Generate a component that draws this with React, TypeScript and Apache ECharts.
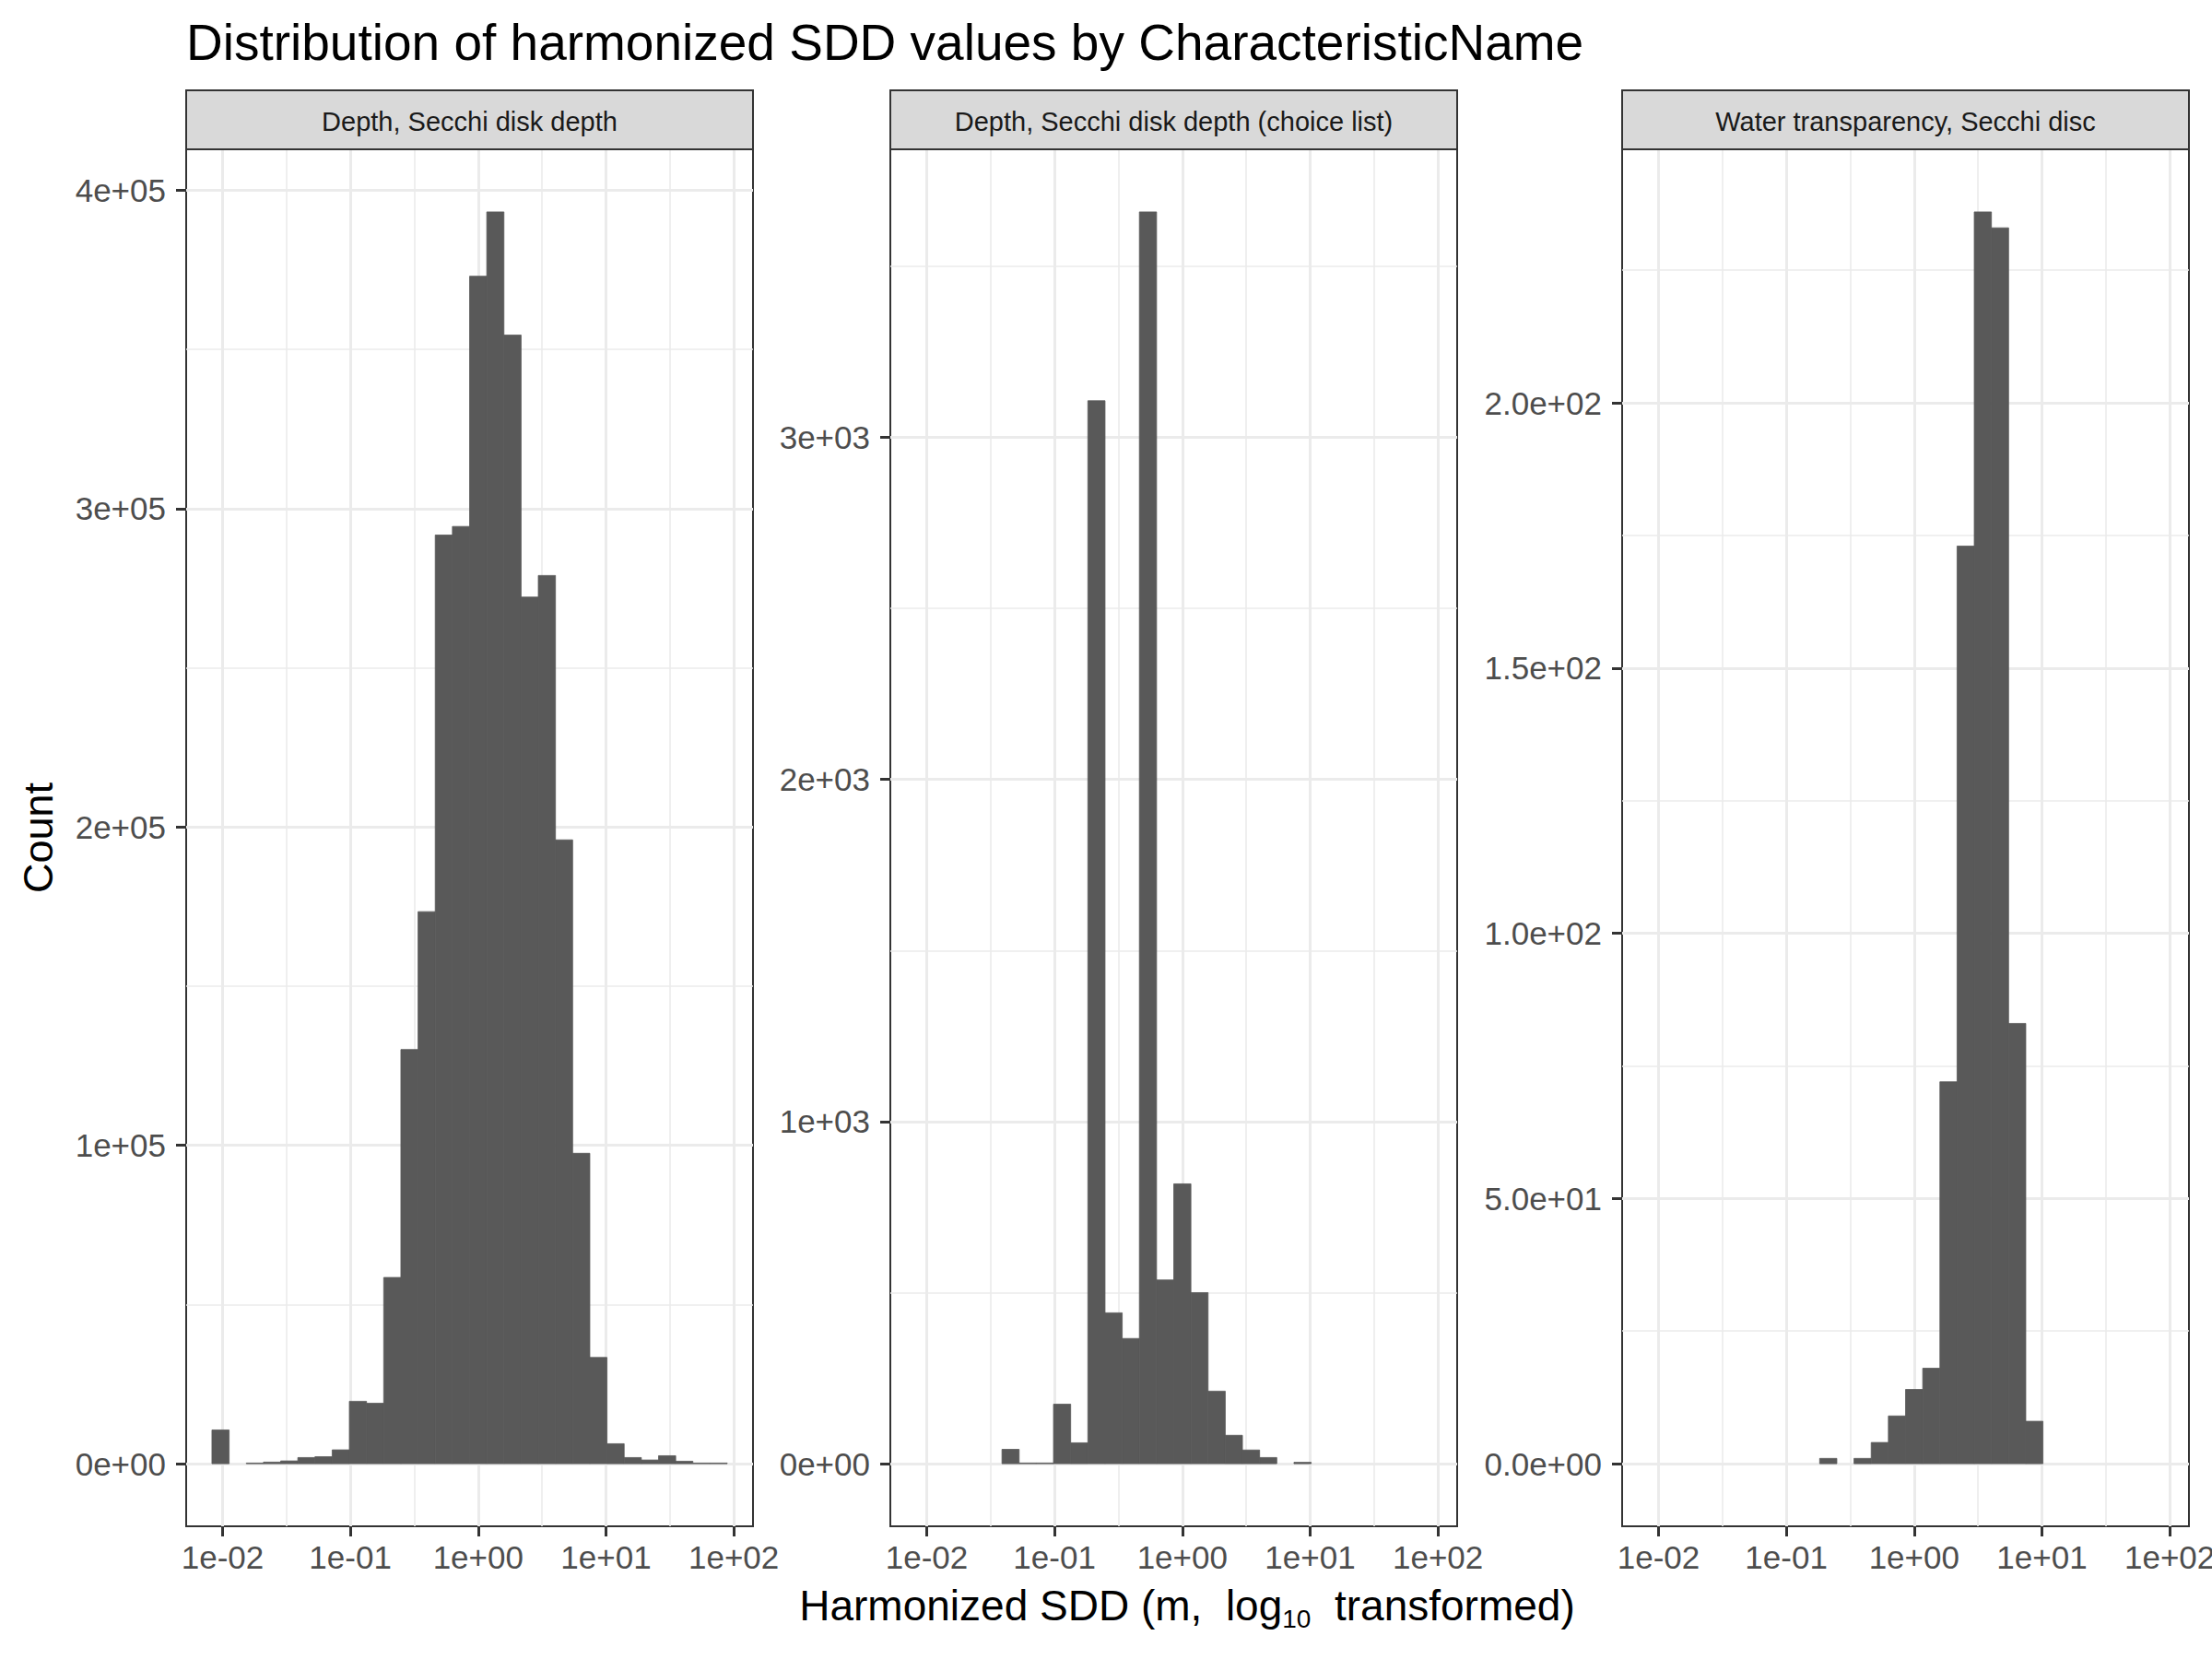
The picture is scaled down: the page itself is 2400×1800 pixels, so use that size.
import React, { useEffect, useRef } from "react";
import * as echarts from "echarts";

// ---------- data ----------
const PANEL_NAMES = [
  "Depth, Secchi disk depth",
  "Depth, Secchi disk depth (choice list)",
  "Water transparency, Secchi disc",
];

// histogram bins in log10(m): 30 bins of equal width, shared by all panels
const BIN_START = -2.083;
const BIN_WIDTH = 0.1344;

const COUNTS_DEPTH = [
  10600, 0, 200, 500, 870, 1930, 2200, 4350, 19600, 19000,
  58500, 130100, 173400, 291700, 294400, 373000, 393200, 354500, 272200, 279000,
  195950, 97500, 33370, 6270, 1930, 1160, 2500, 770, 200, 200,
];
const COUNTS_CHOICE = [
  0, 0, 0, 0, 0, 42, 2, 2, 174, 61,
  3107, 441, 366, 3659, 537, 818, 500, 212, 83, 40,
  18, 0, 4, 0, 0, 0, 0, 0, 0, 0,
];
const COUNTS_WATER = [
  0, 0, 0, 0, 0, 0, 0, 0, 0, 0,
  1, 0, 1, 4, 9, 14, 18, 72, 173, 236,
  233, 83, 8, 0, 0, 0, 0, 0, 0, 0,
];

const X_TICKS = [-2, -1, 0, 1, 2];
const X_TICK_LABELS = ["1e-02", "1e-01", "1e+00", "1e+01", "1e+02"];
const X_MINOR = [-1.5, -0.5, 0.5, 1.5];

const Y_TICKS_DEPTH = [0, 100000, 200000, 300000, 400000];
const Y_LABELS_DEPTH = ["0e+00", "1e+05", "2e+05", "3e+05", "4e+05"];
const Y_MINOR_DEPTH = [50000, 150000, 250000, 350000];

const Y_TICKS_CHOICE = [0, 1000, 2000, 3000];
const Y_LABELS_CHOICE = ["0e+00", "1e+03", "2e+03", "3e+03"];
const Y_MINOR_CHOICE = [500, 1500, 2500, 3500];

const Y_TICKS_WATER = [0, 50, 100, 150, 200];
const Y_LABELS_WATER = ["0.0e+00", "5.0e+01", "1.0e+02", "1.5e+02", "2.0e+02"];
const Y_MINOR_WATER = [25, 75, 125, 175, 225];

const TITLE = "Distribution of harmonized SDD values by CharacteristicName";
const Y_TITLE = "Count";

// ---------- layout / style ----------
const FONT = "'Liberation Sans', Arial, Helvetica, sans-serif";
const PANEL_LEFT = [202, 966, 1760];
const PANEL_WIDTH = 615;
const PANEL_TOP = 162;
const PANEL_HEIGHT = 1494;
const STRIP_TOP = 98;
const STRIP_HEIGHT = 64;
const BAR_COLOR = "#595959";
const GRID_COLOR = "#EBEBEB";
const DARK = "#333333";
const AXIS_TEXT = "#4D4D4D";

const PANELS = [
  { counts: COUNTS_DEPTH, ticks: Y_TICKS_DEPTH, labels: Y_LABELS_DEPTH, minor: Y_MINOR_DEPTH },
  { counts: COUNTS_CHOICE, ticks: Y_TICKS_CHOICE, labels: Y_LABELS_CHOICE, minor: Y_MINOR_CHOICE },
  { counts: COUNTS_WATER, ticks: Y_TICKS_WATER, labels: Y_LABELS_WATER, minor: Y_MINOR_WATER },
];

function buildOption() {
  const binEnd = BIN_START + COUNTS_DEPTH.length * BIN_WIDTH;
  const xPad = (binEnd - BIN_START) * 0.05;
  const xMin = BIN_START - xPad;
  const xMax = binEnd + xPad;

  const grids: any[] = [];
  const xAxes: any[] = [];
  const yAxes: any[] = [];
  const series: any[] = [];
  const graphics: any[] = [];

  PANELS.forEach((p, i) => {
    const yMaxData = Math.max(...p.counts);
    const yMin = -0.05 * yMaxData;
    const yMax = 1.05 * yMaxData;

    grids.push({
      left: PANEL_LEFT[i],
      top: PANEL_TOP,
      width: PANEL_WIDTH,
      height: PANEL_HEIGHT,
      show: true,
      backgroundColor: "#FFFFFF",
      borderColor: DARK,
      borderWidth: 2,
      containLabel: false,
      outerBoundsMode: "none",
    });

    xAxes.push({
      gridIndex: i,
      type: "value",
      min: xMin,
      max: xMax,
      position: "bottom",
      axisLine: { show: false, onZero: false },
      axisTick: {
        show: true,
        length: 11,
        customValues: X_TICKS,
        lineStyle: { color: DARK, width: 3 },
      },
      axisLabel: {
        customValues: X_TICKS,
        formatter: (v: number) => {
          const k = X_TICKS.findIndex((t) => Math.abs(t - v) < 1e-9);
          return k >= 0 ? X_TICK_LABELS[k] : "";
        },
        color: AXIS_TEXT,
        fontSize: 35,
        fontFamily: FONT,
        margin: 16,
      },
      splitLine: { show: true, lineStyle: { color: GRID_COLOR, width: 3 } },
    });
    xAxes.push({
      gridIndex: i,
      type: "value",
      min: xMin,
      max: xMax,
      position: "top",
      axisLine: { show: false, onZero: false },
      axisTick: { show: false, customValues: X_MINOR },
      axisLabel: { show: false, customValues: X_MINOR },
      splitLine: { show: true, lineStyle: { color: GRID_COLOR, width: 1.6 } },
    });

    yAxes.push({
      gridIndex: i,
      type: "value",
      min: yMin,
      max: yMax,
      position: "left",
      axisLine: { show: false, onZero: false },
      axisTick: {
        show: true,
        length: 11,
        customValues: p.ticks,
        lineStyle: { color: DARK, width: 3 },
      },
      axisLabel: {
        customValues: p.ticks,
        formatter: (v: number) => {
          const k = p.ticks.findIndex((t) => Math.abs(t - v) < 1e-6);
          return k >= 0 ? p.labels[k] : "";
        },
        color: AXIS_TEXT,
        fontSize: 35,
        fontFamily: FONT,
        margin: 22,
      },
      splitLine: { show: true, lineStyle: { color: GRID_COLOR, width: 3 } },
    });
    yAxes.push({
      gridIndex: i,
      type: "value",
      min: yMin,
      max: yMax,
      position: "right",
      axisLine: { show: false, onZero: false },
      axisTick: { show: false, customValues: p.minor },
      axisLabel: { show: false, customValues: p.minor },
      splitLine: { show: true, lineStyle: { color: GRID_COLOR, width: 1.6 } },
    });

    const data = p.counts
      .map((c, k) => [BIN_START + k * BIN_WIDTH, BIN_START + (k + 1) * BIN_WIDTH, c])
      .filter((d) => d[2] > 0);

    series.push({
      type: "custom",
      xAxisIndex: 2 * i,
      yAxisIndex: 2 * i,
      z: 5,
      silent: true,
      clip: true,
      encode: { x: [0, 1], y: 2 },
      data,
      renderItem: (_params: any, api: any) => {
        const p0 = api.coord([api.value(0), 0]);
        const p1 = api.coord([api.value(1), api.value(2)]);
        return {
          type: "rect",
          shape: { x: p0[0], y: p1[1], width: p1[0] - p0[0], height: p0[1] - p1[1] },
          style: { fill: BAR_COLOR, stroke: BAR_COLOR, lineWidth: 0.8 },
        };
      },
    });

    // facet strip
    graphics.push({
      type: "rect",
      z: 10,
      shape: { x: PANEL_LEFT[i], y: STRIP_TOP, width: PANEL_WIDTH, height: STRIP_HEIGHT },
      style: { fill: "#D9D9D9", stroke: DARK, lineWidth: 2 },
    });
    graphics.push({
      type: "text",
      z: 11,
      x: PANEL_LEFT[i] + PANEL_WIDTH / 2,
      y: STRIP_TOP + STRIP_HEIGHT / 2 + 1.5,
      style: {
        text: PANEL_NAMES[i],
        fill: "#1A1A1A",
        font: `29px ${FONT}`,
        textAlign: "center",
        textVerticalAlign: "middle",
      },
    });
  });

  // title
  graphics.push({
    type: "text",
    z: 11,
    x: 202,
    y: 46,
    style: {
      text: TITLE,
      fill: "#000000",
      font: `55px ${FONT}`,
      textAlign: "left",
      textVerticalAlign: "middle",
    },
  });
  // y axis title
  graphics.push({
    type: "text",
    z: 11,
    x: 41,
    y: PANEL_TOP + PANEL_HEIGHT / 2,
    rotation: Math.PI / 2,
    style: {
      text: Y_TITLE,
      fill: "#000000",
      font: `45px ${FONT}`,
      textAlign: "center",
      textVerticalAlign: "middle",
    },
  });
  // x axis title with subscript
  graphics.push({
    type: "text",
    z: 11,
    x: 1288,
    y: 1742,
    style: {
      text: "{a|Harmonized SDD (m,  log}{b|10}{a|  transformed)}",
      fill: "#000000",
      textAlign: "center",
      textVerticalAlign: "middle",
      rich: {
        a: { fontSize: 46, fontFamily: FONT, lineHeight: 56, verticalAlign: "middle", fill: "#000000" },
        b: { fontSize: 28, fontFamily: FONT, lineHeight: 30, verticalAlign: "bottom", fill: "#000000" },
      },
    },
  });

  return {
    animation: false,
    backgroundColor: "#FFFFFF",
    grid: grids,
    xAxis: xAxes,
    yAxis: yAxes,
    series,
    graphic: graphics,
  };
}

export default function App() {
  const ref = useRef<HTMLDivElement>(null);
  useEffect(() => {
    document.body.style.margin = "0";
    if (!ref.current) return;
    const chart = echarts.init(ref.current, undefined, { renderer: "svg" });
    chart.setOption(buildOption() as any);
    return () => chart.dispose();
  }, []);
  return <div ref={ref} style={{ width: 2400, height: 1800, background: "#FFFFFF" }} />;
}
